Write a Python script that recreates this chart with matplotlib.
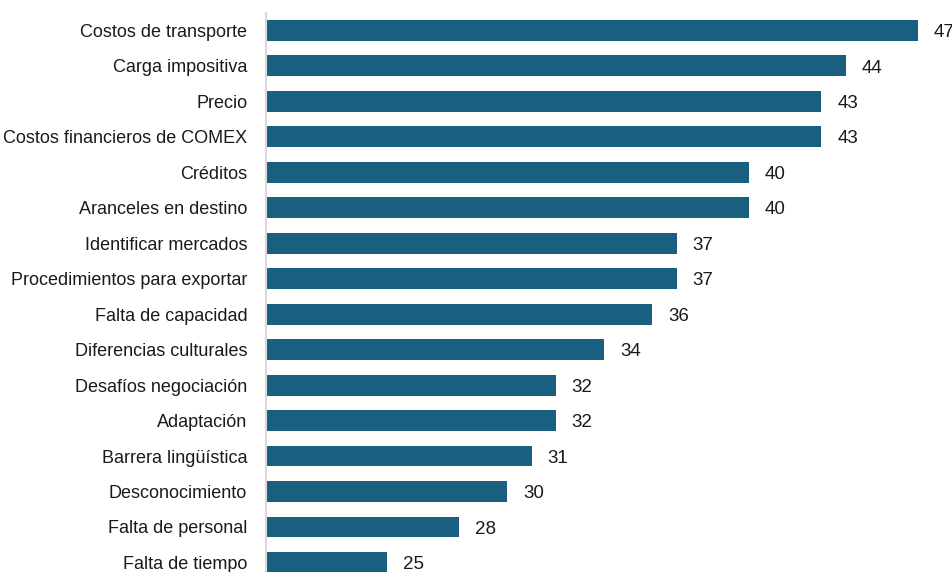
import matplotlib.pyplot as plt

# Data
categorias = [
    "Costos de transporte", "Carga impositiva", "Precio",
    "Costos financieros de COMEX", "Créditos", "Aranceles en destino",
    "Identificar mercados", "Procedimientos para exportar",
    "Falta de capacidad", "Diferencias culturales", "Desafíos negociación",
    "Adaptación", "Barrera lingüística", "Desconocimiento",
    "Falta de personal", "Falta de tiempo",
]
valores = [47, 44, 43, 43, 40, 40, 37, 37, 36, 34, 32, 32, 31, 30, 28, 25]

plt.rcParams['font.family'] = ['Liberation Sans', 'DejaVu Sans']

fig = plt.figure(figsize=(9.53, 5.72), dpi=100)
ax = fig.add_axes([266 / 953, 0.0, 1 - 266 / 953, 1 - 13 / 572])

pos = list(range(len(categorias)))
ax.barh(pos, valores, height=0.59, color='#1a5f80', left=0)

for p, v in zip(pos, valores):
    ax.annotate(str(v), xy=(v, p), xytext=(11.5, -1.5), textcoords='offset points',
                ha='left', va='center', fontsize=13.5, color='#1a1a1a')

ax.set_xlim(20, 48.45)
ax.set_ylim(15.27, -0.493)
ax.set_yticks(pos)
ax.set_yticklabels(categorias, fontsize=13, color='#1a1a1a')
ax.tick_params(axis='y', length=0, pad=13.5)
ax.set_xticks([])

for s in ['top', 'right', 'bottom']:
    ax.spines[s].set_visible(False)
ax.spines['left'].set_color('#d9d9d9')
ax.spines['left'].set_linewidth(1.5)

fig.savefig('out.png', dpi=100)
